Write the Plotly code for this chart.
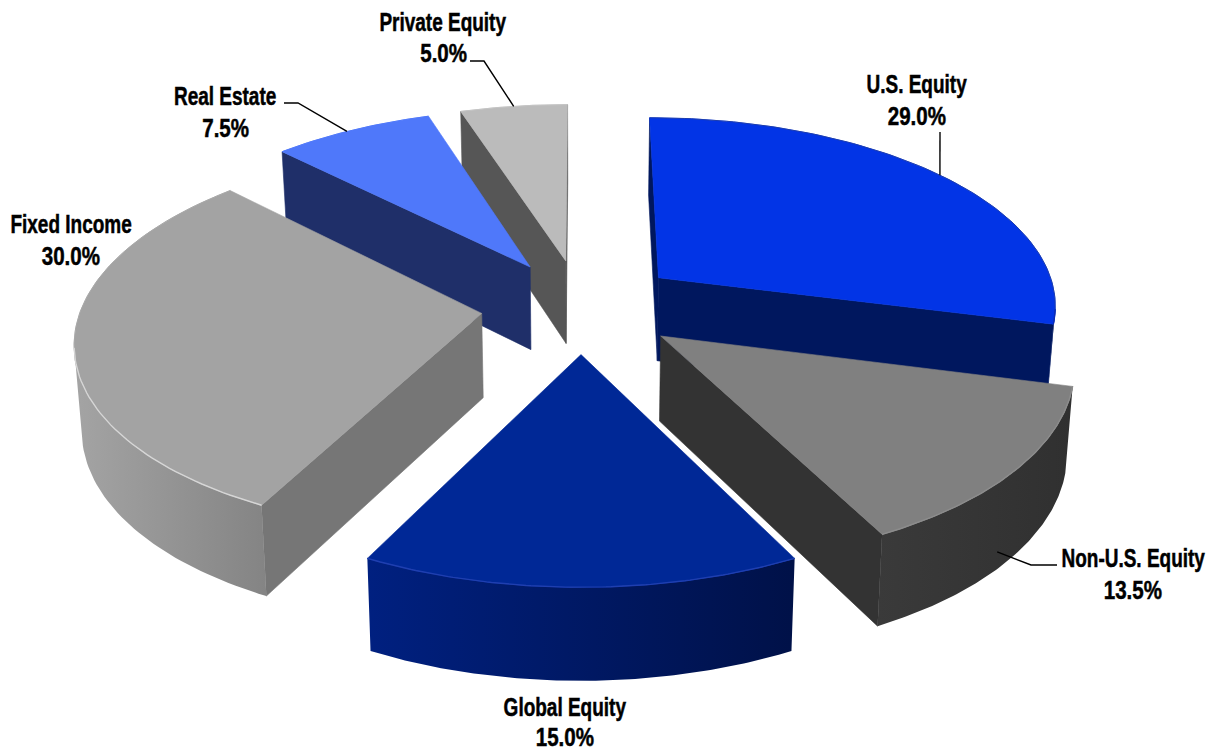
import math
import plotly.graph_objects as go

# Portfolio allocation, clockwise from twelve o'clock
categories = ["U.S. Equity", "Non-U.S. Equity", "Global Equity",
              "Fixed Income", "Real Estate", "Private Equity"]
shares = [29.0, 13.5, 15.0, 30.0, 7.5, 5.0]
top_colors = ["#0234E6", "#808080", "#002896", "#A3A3A3", "#4F78FA", "#BBBBBB"]
cut_colors = ["#00175E", "#333333", "#001E78", "#767676", "#1F2F69", "#565656"]
rim_shades = [("#001A70", "#00165A"), ("#3A3A3A", "#303030"), ("#002080", "#001148"),
              ("#A4A4A4", "#848484"), ("#1F2F69", "#1F2F69"), ("#565656", "#565656")]
edge_colors = ["#0A2CB8", "#8C8C8C", "#1F3FB0", "#D6D6D6", "#4F78FA", "#BBBBBB"]
top_rim_colors = ["#1B3CAE", "#808080", "#002896", "#A8A8A8", "#4F78FA", "#C4C4C4"]

# Camera model of the tilted, exploded disc
CX, CY = 581.0, 306.0
SCALE_X, SCALE_Y = 400.0, 188.0
PERSPECTIVE = 0.1315
EXPLODE = 0.25
DEPTH = 84.0
DEPTH_FALLOFF = 0.6
CONVERGE = 0.985
ARC_STEPS = 90

# Paint order, far slices first
paint_order = ["Private Equity", "Real Estate", "U.S. Equity",
               "Fixed Income", "Non-U.S. Equity", "Global Equity"]

# Label placement: centre x, name y, value y
label_places = {
    "U.S. Equity": (917, 84, 116),
    "Non-U.S. Equity": (1133, 558, 590),
    "Global Equity": (565, 707, 737),
    "Fixed Income": (71, 224, 256),
    "Real Estate": (225, 96, 128),
    "Private Equity": (443, 22, 53),
}
# Leader lines: position along the slice's rim (0-1), then the route to the label,
# then how far down the wall the line lands
leaders = {
    "U.S. Equity": (0.503, [(940, 132)], 0.0),
    "Non-U.S. Equity": (0.568, [(1031, 565), (1057, 565)], 0.80),
    "Real Estate": (0.47, [(298, 103), (284, 103)], 0.0),
    "Private Equity": (0.50, [(484, 61), (470, 61)], 0.0),
}


def project(x, y, drop=0.0):
    w = 1.0 - PERSPECTIVE * y
    sx = CX + SCALE_X * x / w
    sy = CY + SCALE_Y * y / w
    if drop:
        sx = CX + (sx - CX) * (1 - (1 - CONVERGE) * drop)
        sy += DEPTH * drop / w ** DEPTH_FALLOFF
    return sx, sy


def signed_area(pts):
    total = 0.0
    for (x0, y0), (x1, y1) in zip(pts, pts[1:] + pts[:1]):
        total += x0 * y1 - x1 * y0
    return total / 2


def add_poly(fig, pts, color=None, gradient=None):
    xs = [p[0] for p in pts] + [pts[0][0]]
    ys = [p[1] for p in pts] + [pts[0][1]]
    kw = dict(x=xs, y=ys, mode="lines", fill="toself", hoverinfo="skip", showlegend=False)
    if gradient:
        kw["fillgradient"] = dict(type="horizontal", colorscale=[[0, gradient[0]], [1, gradient[1]]])
        kw["line"] = dict(width=0)
    else:
        kw["fillcolor"] = color
        kw["line"] = dict(color=color, width=0.6)
    fig.add_trace(go.Scatter(**kw))


def add_edge(fig, pts, color, width):
    fig.add_trace(go.Scatter(x=[p[0] for p in pts], y=[p[1] for p in pts], mode="lines",
                             line=dict(color=color, width=width),
                             hoverinfo="skip", showlegend=False))


# Angular extent of each slice
spans = {}
start = 0.0
for name, share in zip(categories, shares):
    sweep = share / sum(shares) * 2 * math.pi
    spans[name] = (start, start + sweep)
    start += sweep


def slice_frame(name):
    a0, a1 = spans[name]
    mid = (a0 + a1) / 2
    ex, ey = EXPLODE * math.sin(mid), -EXPLODE * math.cos(mid)
    angles = [a0 + (a1 - a0) * i / ARC_STEPS for i in range(ARC_STEPS + 1)]
    rim = [(ex + math.sin(a), ey - math.cos(a)) for a in angles]
    return angles, rim, (ex, ey)


fig = go.Figure()

for name in paint_order:
    i = categories.index(name)
    angles, rim, apex = slice_frame(name)

    # Radial cut faces, drawn only when turned toward the camera
    for edge, sign in ((rim[0], 1), (rim[-1], -1)):
        quad = [project(*apex), project(*edge), project(*edge, 1), project(*apex, 1)]
        if signed_area(quad) * sign < 0:
            add_poly(fig, quad, cut_colors[i])

    # Curved outer wall for the part of the rim that faces the camera
    cam_y = 1 / PERSPECTIVE
    facing = [p for a, p in zip(angles, rim)
              if (0 - p[0]) * math.sin(a) + (cam_y - p[1]) * (-math.cos(a)) > 0]
    if len(facing) > 1:
        wall = [project(*p) for p in facing] + [project(*p, 1) for p in reversed(facing)]
        add_poly(fig, wall, gradient=rim_shades[i])

    # Top face with its rim, then the bevel highlight on the near edge
    add_poly(fig, [project(*apex)] + [project(*p) for p in rim], top_colors[i])
    add_edge(fig, [project(*p) for p in rim], top_rim_colors[i], 1.0)
    if len(facing) > 1:
        add_edge(fig, [project(*p) for p in facing], edge_colors[i], 1.4)

# Leader lines
for name, (along, route, drop) in leaders.items():
    _, rim, _ = slice_frame(name)
    anchor = project(*rim[int(along * ARC_STEPS)], drop)
    add_edge(fig, [anchor] + route, "black", 1.4)

# Text labels
label_font = dict(family="Liberation Sans, sans-serif", size=26, weight=700, color="black")
for name, share in zip(categories, shares):
    x, y_name, y_value = label_places[name]
    fig.add_annotation(x=x, y=y_name, text=name, showarrow=False, font=label_font)
    fig.add_annotation(x=x, y=y_value, text=f"{share:.1f}%", showarrow=False, font=label_font)

fig.update_layout(
    width=1217, height=748, margin=dict(l=0, r=0, t=0, b=0),
    paper_bgcolor="white", plot_bgcolor="white", showlegend=False,
    xaxis=dict(range=[0, 1217], visible=False, fixedrange=True),
    yaxis=dict(range=[748, 0], visible=False, fixedrange=True),
)

# Squeeze the label glyphs horizontally and thicken them for a heavy condensed face
condense_labels = """
document.querySelectorAll('.annotation-text').forEach(function (t) {
  var ratio = t.textContent.endsWith('%') ? 0.79 : 0.73;
  t.setAttribute('lengthAdjust', 'spacingAndGlyphs');
  t.setAttribute('textLength', t.getComputedTextLength() * ratio);
  t.style.stroke = 'black';
  t.style.strokeWidth = '0.5px';
});
"""
fig.write_html("out.html", config={"displayModeBar": False}, post_script=condense_labels)
